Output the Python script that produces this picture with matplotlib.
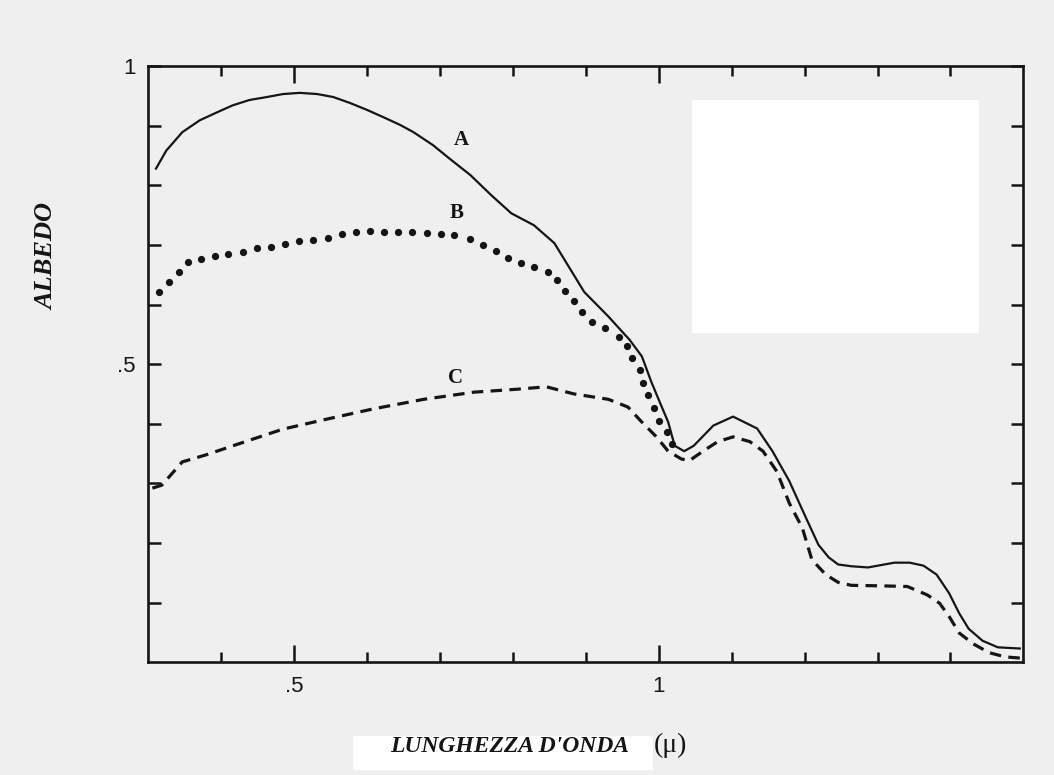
import matplotlib
matplotlib.use("Agg")
import matplotlib.pyplot as plt
from matplotlib.patches import Rectangle

# ---- data (wavelength in micron, albedo) ----
xA = [0.311, 0.325, 0.347, 0.371, 0.394, 0.416, 0.439, 0.463, 0.485, 0.508, 0.532, 0.554,
      0.577, 0.601, 0.623, 0.646, 0.664, 0.691, 0.711, 0.742, 0.770, 0.798, 0.829, 0.857,
      0.898, 0.931, 0.960, 0.977, 0.990, 1.004, 1.013, 1.022, 1.035, 1.048, 1.075, 1.102,
      1.135, 1.156, 1.179, 1.202, 1.219, 1.233, 1.246, 1.264, 1.287, 1.323, 1.344, 1.363,
      1.381, 1.398, 1.412, 1.425, 1.444, 1.465, 1.495]
yA = [0.828, 0.858, 0.889, 0.909, 0.922, 0.934, 0.943, 0.948, 0.953, 0.955, 0.953, 0.948,
      0.938, 0.926, 0.914, 0.901, 0.889, 0.867, 0.847, 0.817, 0.784, 0.753, 0.733, 0.703,
      0.621, 0.580, 0.541, 0.513, 0.470, 0.429, 0.403, 0.363, 0.354, 0.363, 0.397, 0.412,
      0.392, 0.354, 0.304, 0.242, 0.197, 0.176, 0.164, 0.161, 0.159, 0.167, 0.167, 0.162,
      0.147, 0.116, 0.082, 0.056, 0.036, 0.025, 0.023]

xB = [0.315, 0.329, 0.342, 0.355, 0.373, 0.392, 0.410, 0.430, 0.449, 0.468, 0.488, 0.507,
      0.526, 0.547, 0.566, 0.585, 0.605, 0.623, 0.643, 0.662, 0.682, 0.701, 0.720, 0.741,
      0.759, 0.777, 0.793, 0.811, 0.829, 0.848, 0.860, 0.872, 0.884, 0.895, 0.909, 0.927,
      0.945, 0.956, 0.964, 0.974, 0.979, 0.986, 0.994, 1.001, 1.011, 1.018]
yB = [0.621, 0.638, 0.654, 0.671, 0.677, 0.682, 0.685, 0.688, 0.694, 0.697, 0.702, 0.706,
      0.709, 0.712, 0.718, 0.721, 0.723, 0.721, 0.721, 0.721, 0.720, 0.718, 0.716, 0.710,
      0.700, 0.690, 0.678, 0.670, 0.663, 0.655, 0.641, 0.623, 0.606, 0.588, 0.570, 0.560,
      0.546, 0.530, 0.510, 0.490, 0.469, 0.448, 0.426, 0.404, 0.386, 0.366]

xC = [0.306, 0.319, 0.347, 0.380, 0.426, 0.485, 0.546, 0.609, 0.678, 0.747, 0.807, 0.846,
      0.884, 0.931, 0.958, 0.976, 0.997, 1.013, 1.031, 1.042, 1.062, 1.081, 1.102, 1.125,
      1.143, 1.162, 1.179, 1.197, 1.210, 1.229, 1.246, 1.264, 1.310, 1.341, 1.368, 1.385,
      1.398, 1.412, 1.431, 1.453, 1.475, 1.495]
yC = [0.292, 0.297, 0.336, 0.348, 0.367, 0.391, 0.408, 0.425, 0.441, 0.453, 0.458, 0.462,
      0.450, 0.441, 0.428, 0.404, 0.378, 0.354, 0.341, 0.338, 0.355, 0.370, 0.378, 0.370,
      0.354, 0.320, 0.267, 0.225, 0.172, 0.147, 0.134, 0.129, 0.128, 0.127, 0.113, 0.099,
      0.077, 0.049, 0.031, 0.016, 0.009, 0.007]

curve_labels = ["A", "B", "C"]
label_pos = [(0.730, 0.876), (0.723, 0.753), (0.722, 0.476)]

x_major = [0.5, 1.0]
x_major_labels = [".5", "1"]
x_minor = [0.4, 0.6, 0.7, 0.8, 0.9, 1.1, 1.2, 1.3, 1.4]
y_major = [0.5, 1.0]
y_major_labels = [".5", "1"]
y_minor = [0.1, 0.2, 0.3, 0.4, 0.6, 0.7, 0.8, 0.9]

BG = "#efefef"
INK = "#151515"

fig = plt.figure(figsize=(10.54, 7.75), dpi=100, facecolor=BG)
ax = fig.add_axes([0.1404, 0.1455, 0.8306, 0.7693])
ax.set_facecolor(BG)

# blanked-out area (white patch in the scan)
ax.add_patch(Rectangle((0.621, 0.553), 0.328, 0.390, transform=ax.transAxes,
                       facecolor="white", edgecolor="none", zorder=1))

ax.plot(xA, yA, color=INK, lw=1.6, solid_joinstyle="round", zorder=3)
ax.plot(xB, yB, linestyle="none", marker="o", markersize=4.2, color=INK, zorder=3)
ax.plot(xC, yC, color=INK, lw=2.3, linestyle=(0, (3.6, 2.3)), zorder=3)

for lab, (lx, ly) in zip(curve_labels, label_pos):
    ax.text(lx, ly, lab, family="Liberation Serif", fontweight="bold", fontsize=15,
            color=INK, ha="center", va="center", zorder=4)

ax.set_xlim(0.3, 1.5)
ax.set_ylim(0.0, 1.0)

ax.set_xticks(x_major)
ax.set_xticklabels(x_major_labels)
ax.set_xticks(x_minor, minor=True)
ax.set_yticks(y_major)
ax.set_yticklabels(y_major_labels)
ax.set_yticks(y_minor, minor=True)

ax.tick_params(axis="x", which="major", direction="in", length=12, width=1.8,
               top=True, bottom=True, color=INK, pad=10)
ax.tick_params(axis="x", which="minor", direction="in", length=7, width=1.8,
               top=True, bottom=True, color=INK)
ax.tick_params(axis="y", which="both", direction="in", length=9, width=1.8,
               left=True, right=True, color=INK, pad=9)
for lbl in ax.get_xticklabels() + ax.get_yticklabels():
    lbl.set_family("Liberation Sans")
    lbl.set_fontsize(16)
    lbl.set_color(INK)

for sp in ax.spines.values():
    sp.set_linewidth(1.9)
    sp.set_color(INK)

# axis titles
fig.text(47 / 1054, 1 - 257 / 775, "ALBEDO", rotation=90, ha="center", va="center",
         family="Liberation Serif", fontstyle="italic", fontweight="bold", fontsize=19,
         color=INK)

fig.patches.append(Rectangle((353 / 1054, 1 - 770 / 775), 300 / 1054, 34 / 775,
                             transform=fig.transFigure, facecolor="white",
                             edgecolor="none", zorder=0))
fig.text(510 / 1054, 1 - 747 / 775, "LUNGHEZZA D'ONDA", ha="center", va="center",
         family="Liberation Serif", fontstyle="italic", fontweight="bold", fontsize=17,
         color=INK)
fig.text(670 / 1054, 1 - 745 / 775, "(\u03bc)", ha="center", va="center",
         family="Liberation Serif", fontsize=20, color=INK)

fig.savefig("out.png", dpi=100, facecolor=BG)
